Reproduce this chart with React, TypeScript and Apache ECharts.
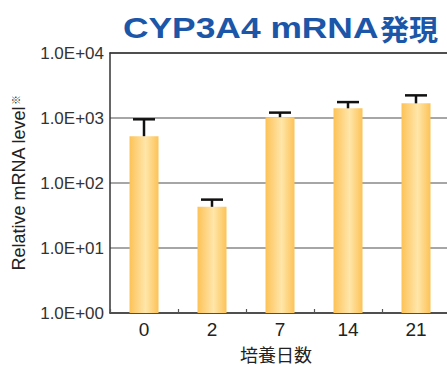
import React, { useEffect, useRef } from "react";
import * as echarts from "echarts";

// Culture days (x categories)
const days = ["0", "2", "7", "14", "21"];
// Mean relative CYP3A4 mRNA level per day
const meanLevels = [525, 43, 1030, 1410, 1680];
// Upper error (mean + SD) per day
const upperLevels = [955, 55.5, 1210, 1757, 2230];
// Log-axis tick labels, from 1 to 10^4
const yTickLabels = ["1.0E+00", "1.0E+01", "1.0E+02", "1.0E+03", "1.0E+04"];

const titleMain = "CYP3A4 mRNA";
const titleCjk = "発現";
const yTitle = "Relative mRNA level";
const xTitle = "培養日数";

export default function App() {
  const ref = useRef<HTMLDivElement>(null);

  useEffect(() => {
    document.body.style.margin = "0";
    if (!ref.current) return;
    const chart = echarts.init(ref.current, undefined, { renderer: "svg" });

    const barGradient = new echarts.graphic.LinearGradient(0, 0, 1, 0, [
      { offset: 0, color: "#FDC257" },
      { offset: 0.55, color: "#FFE6AA" },
      { offset: 1, color: "#FDC257" },
    ]);

    chart.setOption({
      animation: false,
      grid: {
        left: 110,
        right: -3,
        top: 53,
        bottom: 54,
        containLabel: false,
        outerBoundsMode: "none",
      },
      xAxis: [
        {
          type: "category",
          data: days,
          axisLine: { lineStyle: { color: "#333", width: 1.5 } },
          axisTick: {
            show: true,
            inside: true,
            length: 4,
            interval: 0,
            lineStyle: { color: "#555", width: 1.2 },
          },
          axisLabel: {
            fontSize: 19,
            color: "#222",
            margin: 7,
            fontFamily: "Liberation Sans, Arial, sans-serif",
          },
        },
        {
          type: "category",
          data: days,
          position: "top",
          axisLine: { show: true, lineStyle: { color: "#333", width: 1.5 } },
          axisTick: { show: false },
          axisLabel: { show: false },
        },
      ],
      yAxis: {
        type: "log",
        logBase: 10,
        min: 1,
        max: 10000,
        axisLine: { show: true, lineStyle: { color: "#333", width: 1.5 } },
        axisTick: { show: false },
        splitLine: { show: true, lineStyle: { color: "#888", width: 1.5 } },
        axisLabel: {
          fontSize: 17,
          color: "#333",
          margin: 6,
          fontFamily: "Liberation Sans, Arial, sans-serif",
          formatter: (v: number) => yTickLabels[Math.round(Math.log10(v))] ?? "",
        },
      },
      series: [
        {
          type: "bar",
          data: meanLevels,
          barWidth: 29,
          itemStyle: { color: barGradient },
          z: 2,
        },
        {
          type: "custom",
          z: 3,
          data: days.map((_, i) => [i, meanLevels[i], upperLevels[i]]),
          renderItem: (_params: any, api: any) => {
            const base = api.coord([api.value(0), api.value(1)]);
            const top = api.coord([api.value(0), api.value(2)]);
            const half = 11;
            const style = { stroke: "#111", lineWidth: 2.5 };
            return {
              type: "group",
              children: [
                {
                  type: "line",
                  shape: { x1: base[0], y1: base[1], x2: top[0], y2: top[1] },
                  style,
                },
                {
                  type: "line",
                  shape: { x1: top[0] - half, y1: top[1], x2: top[0] + half, y2: top[1] },
                  style,
                },
              ],
            };
          },
        },
      ],
      graphic: [
        {
          type: "text",
          x: 123,
          y: 28,
          scaleX: 1.22,
          style: {
            text: titleMain,
            fill: "#1B56A8",
            fontSize: 29,
            fontWeight: "bold",
            fontFamily: "Liberation Sans, Arial, sans-serif",
            align: "left",
            verticalAlign: "middle",
          },
        },
        {
          type: "text",
          x: 380,
          y: 28,
          style: {
            text: titleCjk,
            fill: "#1B56A8",
            fontSize: 29,
            fontWeight: "bold",
            fontFamily: "Noto Sans CJK JP, sans-serif",
            align: "left",
            verticalAlign: "middle",
          },
        },
        {
          type: "text",
          x: 19,
          y: 183,
          rotation: Math.PI / 2,
          style: {
            text: "{a|" + yTitle + "}{s|※}",
            align: "center",
            verticalAlign: "middle",
            rich: {
              a: {
                fontSize: 18,
                fill: "#222",
                fontFamily: "Liberation Sans, Arial, sans-serif",
              },
              s: {
                fontSize: 10,
                fill: "#222",
                fontFamily: "Noto Sans CJK JP, sans-serif",
                verticalAlign: "top",
                padding: [0, 0, 8, 1],
              },
            },
          },
        },
        {
          type: "text",
          x: 276,
          y: 354,
          style: {
            text: xTitle,
            fill: "#222",
            fontSize: 18,
            fontFamily: "Noto Sans CJK JP, sans-serif",
            align: "center",
            verticalAlign: "middle",
          },
        },
      ],
    });

    return () => chart.dispose();
  }, []);

  return (
    <div
      ref={ref}
      style={{ position: "absolute", left: 0, top: 0, width: 447, height: 367 }}
    />
  );
}
